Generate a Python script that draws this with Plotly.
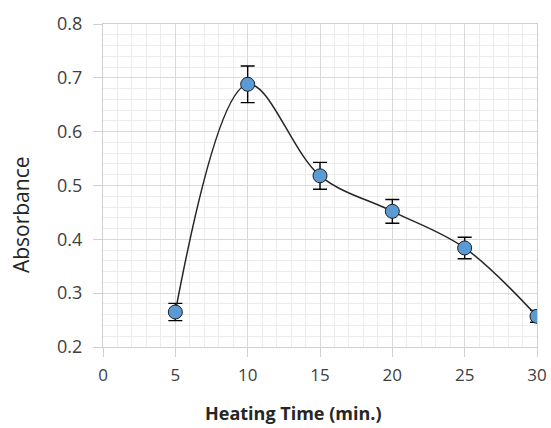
import plotly.graph_objects as go

# Heating time (min.) and measured absorbance with standard deviation
heating_time = [5, 10, 15, 20, 25, 30]
absorbance = [0.265, 0.688, 0.518, 0.452, 0.384, 0.257]
abs_error = [0.016, 0.034, 0.025, 0.022, 0.020, 0.011]

x_ticks = [0, 5, 10, 15, 20, 25, 30]
y_ticks = [0.2, 0.3, 0.4, 0.5, 0.6, 0.7, 0.8]

font_family = "Open Sans, Liberation Sans, sans-serif"
grid_major = "#d9d9d9"
grid_minor = "#ececec"
axis_line = "#d0d0d0"

fig = go.Figure()

fig.add_trace(go.Scatter(
    x=heating_time,
    y=absorbance,
    mode="lines+markers",
    line=dict(color="#262626", width=1.5, shape="spline", smoothing=1.0),
    marker=dict(size=14, color="#5B9BD5", line=dict(color="#1f1f1f", width=1)),
    error_y=dict(type="data", array=abs_error, visible=True,
                 color="#000000", thickness=1.4, width=7),
    showlegend=False,
))

axis_common = dict(
    ticks="outside",
    ticklen=9,
    tickcolor=axis_line,
    showline=True,
    linecolor=axis_line,
    linewidth=1,
    mirror=True,
    showgrid=True,
    gridcolor=grid_major,
    gridwidth=1,
    zeroline=False,
    automargin=False,
)

fig.update_xaxes(range=[0, 30], tickvals=x_ticks,
                 minor=dict(dtick=1, showgrid=True, gridcolor=grid_minor, gridwidth=1),
                 ticklabelstandoff=4,
                 tickfont=dict(size=17, color="#404040", family=font_family),
                 **axis_common)
fig.update_yaxes(range=[0.2, 0.8], tickvals=y_ticks,
                 ticktext=[f"{v:.1f}" for v in y_ticks],
                 minor=dict(dtick=0.02, showgrid=True, gridcolor=grid_minor, gridwidth=1),
                 ticklabelstandoff=7,
                 tickfont=dict(size=18, color="#404040", family=font_family),
                 **axis_common)

# Axis titles
fig.add_annotation(text="<b>Heating Time (min.)</b>", xref="paper", yref="paper",
                   x=0.438, y=-0.205, xanchor="center", yanchor="middle",
                   showarrow=False,
                   font=dict(size=18, color="#262626", family=font_family))
fig.add_annotation(text="Absorbance", xref="paper", yref="paper",
                   x=-0.19, y=0.41, xanchor="center", yanchor="middle",
                   textangle=-90, showarrow=False,
                   font=dict(size=21, color="#262626", family=font_family))

fig.update_layout(
    width=551,
    height=428,
    margin=dict(l=103, r=14, t=24, b=81),
    paper_bgcolor="white",
    plot_bgcolor="white",
    font=dict(family=font_family, color="#404040", size=17),
)

fig.write_html("out.html")
